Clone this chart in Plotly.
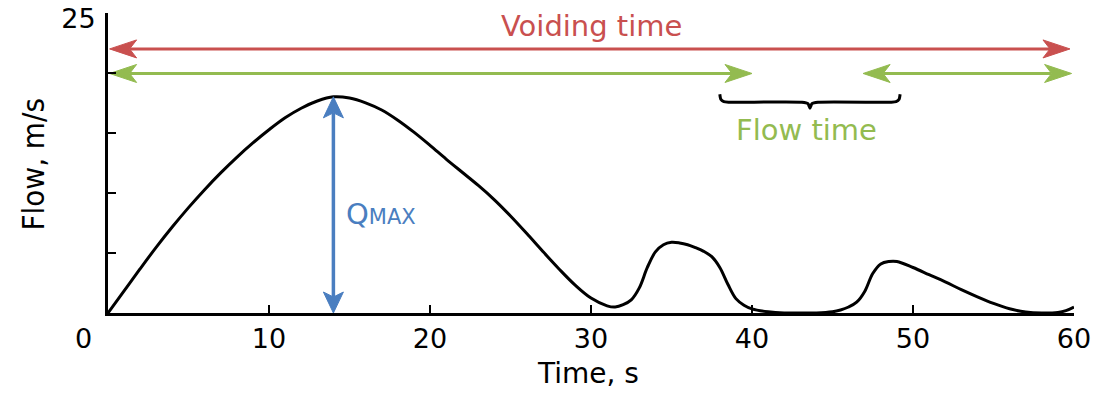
import plotly.graph_objects as go

# ---- data -------------------------------------------------------------
TIME = [0, 1, 2, 3, 4, 5, 6, 7, 8, 9, 10, 11, 12, 13, 14, 15, 16, 17, 18, 19,
        20, 21, 22, 23, 24, 25, 26, 27, 28, 29, 30, 31, 31.5, 32, 32.5, 33,
        33.5, 34, 34.5, 35, 35.5, 36, 36.5, 37, 37.5, 38, 38.5, 39, 39.5, 40,
        41, 42, 43, 44, 45, 45.5, 46, 46.5, 47, 47.5, 48, 48.5, 49, 50, 51,
        52, 53, 54, 55, 56, 57, 58, 59, 59.5, 60]
FLOW = [0, 1.85, 3.7, 5.5, 7.2, 8.8, 10.3, 11.7, 13.0, 14.2, 15.3, 16.3,
        17.1, 17.7, 18.05, 17.95, 17.55, 16.95, 16.1, 15.1, 14.0, 12.85, 11.75,
        10.65, 9.45, 8.1, 6.65, 5.15, 3.7, 2.35, 1.25, 0.6, 0.5, 0.7, 1.1, 2.1,
        3.8, 5.1, 5.7, 5.9, 5.85, 5.7, 5.45, 5.15, 4.7, 3.8, 2.4, 1.2, 0.65,
        0.35, 0.1, 0.0, 0.0, 0.0, 0.1, 0.25, 0.5, 0.9, 1.8, 3.3, 4.1, 4.3,
        4.3, 3.8, 3.2, 2.6, 1.95, 1.35, 0.8, 0.35, 0.08, 0.0, 0.05, 0.2, 0.5]

X_TICKS = [0, 10, 20, 30, 40, 50, 60]
X_TICK_TEXT = ["", "10", "20", "30", "40", "50", "60"]
Y_TICKS = [0, 5, 10, 15, 20, 25]
Y_TICK_TEXT = ["", "", "", "", "", "25"]

VOIDING_SPAN = (0.1, 59.75)          # voiding time arrow, s
VOIDING_LEVEL = 22.05
FLOW_SPANS = [(0.1, 40.0), (46.9, 59.85)]   # flow time arrows, s
FLOW_LEVEL = 20.0
GAP_SPAN = (38.0, 49.2)              # brace under the flow pause
GAP_LEVEL = 17.6

RED = "#c9504f"
GREEN = "#93bb50"
BLUE = "#4a7ec0"

# ---- geometry helpers -------------------------------------------------
W, H = 1094, 394
MARGIN = dict(l=108, r=20, t=13, b=81, pad=0)
X_RANGE = [0, 60]
Y_RANGE = [0, 25.05]
PX_X = (W - MARGIN["l"] - MARGIN["r"]) / (X_RANGE[1] - X_RANGE[0])
PX_Y = (H - MARGIN["t"] - MARGIN["b"]) / (Y_RANGE[1] - Y_RANGE[0])

fig = go.Figure()


def add_head(tx, ty, direction, color, length=27, width=18, notch=7):
    """Notched arrow head with its tip at (tx, ty); sizes in pixels."""
    if direction in ("left", "right"):
        d = 1 if direction == "right" else -1
        bx = tx - d * length / PX_X
        nx = tx - d * (length - notch) / PX_X
        hw = width / 2 / PX_Y
        xs = [tx, bx, nx, bx, tx]
        ys = [ty, ty + hw, ty, ty - hw, ty]
        back = nx
    else:
        d = 1 if direction == "up" else -1
        by = ty - d * length / PX_Y
        ny = ty - d * (length - notch) / PX_Y
        hw = width / 2 / PX_X
        xs = [tx, tx - hw, tx, tx + hw, tx]
        ys = [ty, by, ny, by, ty]
        back = ny
    fig.add_trace(go.Scatter(x=xs, y=ys, mode="lines", fill="toself",
                             fillcolor=color, line=dict(color=color, width=1),
                             hoverinfo="skip", showlegend=False, cliponaxis=False))
    return back


def add_h_arrow(x0, x1, y, color):
    a = add_head(x0, y, "left", color)
    b = add_head(x1, y, "right", color)
    fig.add_trace(go.Scatter(x=[a, b], y=[y, y], mode="lines",
                             line=dict(color=color, width=3),
                             hoverinfo="skip", showlegend=False, cliponaxis=False))


def add_v_arrow(x, y0, y1, color):
    a = add_head(x, y0, "down", color, length=21, width=20, notch=5)
    b = add_head(x, y1, "up", color, length=21, width=20, notch=5)
    fig.add_trace(go.Scatter(x=[x, x], y=[a, b], mode="lines",
                             line=dict(color=color, width=3.5),
                             hoverinfo="skip", showlegend=False, cliponaxis=False))


def add_brace(x0, x1, y, hook=8, dip=6):
    """Square brace opening upward with a small central point."""
    mid = (x0 + x1) / 2
    dx = lambda p: p / PX_X
    dy = lambda p: p / PX_Y
    xs = [x0, x0 + dx(1), x0 + dx(4), x0 + dx(9),
          mid - dx(8), mid - dx(2), mid, mid + dx(2), mid + dx(8),
          x1 - dx(9), x1 - dx(4), x1 - dx(1), x1]
    ys = [y + dy(hook), y + dy(3), y + dy(0.5), y,
          y, y - dy(1.5), y - dy(dip), y - dy(1.5), y,
          y, y + dy(0.5), y + dy(3), y + dy(hook)]
    fig.add_trace(go.Scatter(x=xs, y=ys, mode="lines",
                             line=dict(color="black", width=3, shape="spline", smoothing=0.5),
                             hoverinfo="skip", showlegend=False, cliponaxis=False))


# ---- flow curve -------------------------------------------------------
fig.add_trace(go.Scatter(x=TIME, y=FLOW, mode="lines",
                         line=dict(color="black", width=3, shape="spline", smoothing=1.0),
                         hoverinfo="skip", showlegend=False))

# ---- annotation arrows ------------------------------------------------
add_h_arrow(VOIDING_SPAN[0], VOIDING_SPAN[1], VOIDING_LEVEL, RED)
for s, e in FLOW_SPANS:
    add_h_arrow(s, e, FLOW_LEVEL, GREEN)

q_max = max(FLOW)
t_max = TIME[FLOW.index(q_max)]
add_v_arrow(t_max, 0, q_max, BLUE)

add_brace(GAP_SPAN[0], GAP_SPAN[1], GAP_LEVEL)

# ---- texts ------------------------------------------------------------
TEXT_FONT = "DejaVu Sans"
annotations = [
    dict(x=30, y=24.0, text="Voiding time", font=dict(family=TEXT_FONT, size=29, color=RED)),
    dict(x=(GAP_SPAN[0] + GAP_SPAN[1]) / 2 - 0.2, y=15.3, text="Flow time",
         font=dict(family=TEXT_FONT, size=29, color=GREEN)),
    dict(x=t_max, y=8.3, xanchor="left", xshift=11,
         text="Q<span style='font-size:21px'>MAX</span>",
         font=dict(family=TEXT_FONT, size=29, color=BLUE)),
    dict(x=29.8, y=0, yshift=-60, text="Time, s",
         font=dict(family=TEXT_FONT, size=28, color="black")),
    dict(x=0, y=0, xshift=-25, yshift=-25, text="0",
         font=dict(family=TEXT_FONT, size=27, color="black")),
    dict(xref="paper", x=0, xshift=-76, y=12.4, text="Flow, m/s", textangle=-90,
         font=dict(family="DejaVu Sans Condensed, DejaVu Sans", size=31, color="black")),
]
for a in annotations:
    a.setdefault("xref", "x")
    a.setdefault("yref", "y")
    a.setdefault("showarrow", False)
    a.setdefault("xanchor", "center")
    a.setdefault("yanchor", "middle")

axis_common = dict(showline=True, linecolor="black", linewidth=3, ticks="inside",
                   ticklen=8, tickwidth=2, tickcolor="black", showgrid=False,
                   zeroline=False, fixedrange=True, automargin=False,
                   ticklabeloverflow="allow",
                   tickfont=dict(family=TEXT_FONT, size=27, color="black"))

fig.update_layout(
    width=W, height=H, margin=MARGIN,
    paper_bgcolor="white", plot_bgcolor="white", showlegend=False,
    xaxis=dict(range=X_RANGE, tickmode="array", tickvals=X_TICKS,
               ticktext=X_TICK_TEXT, **axis_common),
    yaxis=dict(range=Y_RANGE, tickmode="array", tickvals=Y_TICKS,
               ticktext=Y_TICK_TEXT, ticklabelstandoff=4, ticklabelshift=5,
               **axis_common),
    annotations=annotations,
)

fig.write_html("out.html", config={"displayModeBar": False})
